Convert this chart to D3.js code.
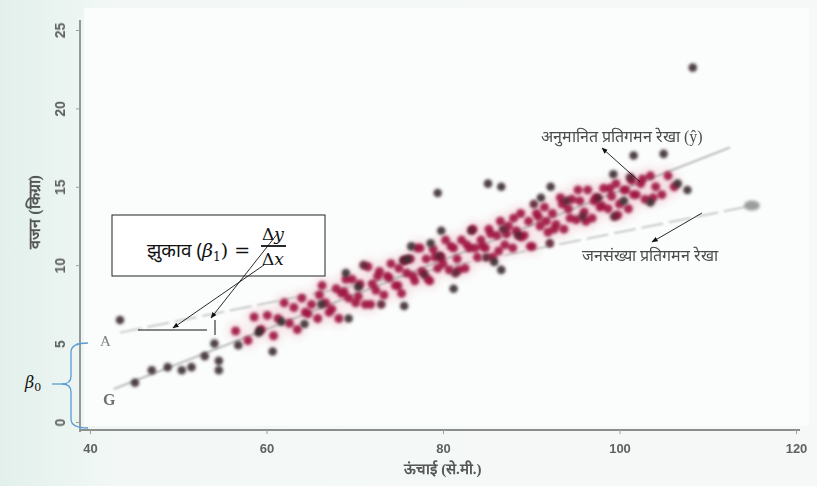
<!DOCTYPE html>
<html>
<head>
<meta charset="utf-8">
<script src="https://cdn.jsdelivr.net/npm/d3@7"></script>
<style>
  html, body { margin: 0; padding: 0; background: #f1f6f4; }
  svg { display: block; }
</style>
</head>
<body>
<svg id="chart" width="817" height="486"></svg>
<script>
// ---------------- data ----------------
const xTicks = [40, 60, 80, 100, 120];
const yTicks = [0, 5, 10, 15, 20, 25];

// dense core of the cloud (crimson)
const coreHeights = [56.5,57.9,58.6,59.4,60.1,60.8,61.3,62.0,62.6,63.1,63.5,64.0,64.7,65.1,65.8,66.3,66.7,67.4,67.9,68.2,
  68.8,69.3,69.7,70.1,70.6,71.2,71.5,72.0,72.4,72.8,73.3,73.7,74.1,74.6,75.0,75.3,75.9,76.3,76.8,77.1,
  77.6,78.1,78.5,78.9,79.4,79.8,80.3,80.7,81.2,81.6,82.1,82.5,83.0,83.4,83.9,84.3,84.8,85.2,85.6,86.1,
  86.5,87.0,87.4,87.9,88.3,88.8,89.2,89.7,90.1,90.6,91.0,91.5,91.9,92.4,92.8,93.3,93.7,94.2,94.6,95.1,
  95.5,96.0,96.4,96.9,97.3,97.8,98.2,98.7,99.1,99.6,100.0,100.5,101.0,101.4,101.9,102.4,102.9,103.5,104.1,104.8,
  105.5,106.2,
  64.4,66.0,67.1,68.5,69.0,70.4,71.8,72.6,73.9,74.9,75.7,76.6,77.4,78.3,79.1,80.0,80.9,81.8,82.7,83.6,
  84.5,85.4,86.3,87.2,88.0,88.9,89.9,90.8,91.7,92.6,93.5,94.4,95.3,96.2,97.1,98.0,98.9,99.8,100.7,101.6,
  102.6,103.8];
const coreWeights = [5.8,5.2,6.7,5.9,6.8,5.5,6.6,7.6,6.3,7.3,5.9,7.9,6.9,7.5,6.6,8.7,7.6,7.2,8.5,6.6,
  8.3,7.9,9.1,7.6,8.8,7.5,9.9,8.8,8.4,9.6,8.1,9.3,10.1,8.7,9.8,8.2,9.5,10.4,9.0,11.1,
  9.6,10.4,9.0,11.0,9.8,10.5,11.6,9.7,11.1,10.4,11.6,9.8,11.1,12.3,10.5,11.6,11.1,12.3,10.5,11.9,
  12.8,11.3,12.5,11.1,12.2,13.3,11.9,12.8,11.2,13.3,12.5,13.7,12.1,13.3,12.6,14.3,12.3,13.6,14.2,12.9,
  14.1,13.4,14.8,13.0,14.3,13.7,14.9,13.6,14.4,15.2,13.9,14.8,13.6,15.4,14.5,15.2,14.2,15.7,15.0,14.5,
  15.7,15.0,
  7.0,8.1,7.0,8.2,9.1,8.0,7.5,9.3,9.2,8.7,10.3,9.3,11.1,9.1,10.5,10.1,11.2,9.7,11.3,11.1,
  11.2,12.0,10.9,12.0,13.0,11.8,11.2,13.1,12.8,12.3,13.9,13.0,14.8,12.8,14.1,13.8,14.9,13.2,14.8,14.5,
  15.5,14.3];

// darker maroon points inside the band
const bandHeights = [71.0,73.0,75.5,77.9,79.6,81.4,83.2,84.9,86.8,88.5,90.3,92.1,94.0,95.8,97.6,99.4,101.2];
const bandWeights = [10.0,7.5,10.3,9.4,10.6,9.5,12.2,10.5,12.3,11.9,13.9,11.4,14.1,13.1,14.3,13.1,15.6];

// scattered dark points
const darkHeights = [108.3,43.4,45.1,47.0,48.8,50.4,51.5,53.0,54.1,54.6,54.6,56.8,59.1,60.7,61.7,64.3,69.0,70.4,75.6,79.4,
  85.1,86.6,91.1,92.2,99.3,100.5,101.6,105.0,106.6,103.5,79.8,78.6,76.4,76.0,86.6,85.8,81.2,69.3,66.2,59.2,107.7];
const darkWeights = [22.6,6.5,2.5,3.3,3.5,3.3,3.5,4.2,5.0,3.9,3.3,4.9,5.7,4.5,6.4,6.25,9.5,8.6,7.4,14.6,
  15.2,15.0,14.3,15.0,15.8,14.1,17.0,17.1,15.2,14.0,12.2,11.4,11.2,10.4,9.7,10.2,8.5,6.6,7.5,5.8,14.8];

// fitted (estimated) regression line and population regression line
const estLineX = [42.7, 112.5];
const estLineY = [2.1, 17.5];
const popLineX = [43.4, 115.0];
const popLineY = [5.7, 13.8];

const xLabel = "ऊंचाई (से.मी.)";
const yLabel = "वजन (किग्रा)";
const estLabel = "अनुमानित प्रतिगमन रेखा (ŷ)";
const popLabel = "जनसंख्या प्रतिगमन रेखा";

// ---------------- drawing ----------------
const svg = d3.select("#chart");
const W = 817, H = 486;

const x = d3.scaleLinear().domain([40, 120]).range([90, 796]);
const y = d3.scaleLinear().domain([0, 25]).range([422, 30]);

const defs = svg.append("defs");
const bg = defs.append("linearGradient").attr("id", "bg").attr("x1", 0).attr("x2", 1).attr("y1", 0).attr("y2", 0);
bg.append("stop").attr("offset", "0%").attr("stop-color", "#e2f0eb");
bg.append("stop").attr("offset", "15%").attr("stop-color", "#f3f8f6");
bg.append("stop").attr("offset", "100%").attr("stop-color", "#f6f8f7");
defs.append("filter").attr("id", "blur").attr("x", "-50%").attr("y", "-50%").attr("width", "200%").attr("height", "200%")
  .append("feGaussianBlur").attr("stdDeviation", 1.5);
defs.append("filter").attr("id", "blurSoft").attr("x", "-50%").attr("y", "-50%").attr("width", "200%").attr("height", "200%")
  .append("feGaussianBlur").attr("stdDeviation", 5);
defs.append("filter").attr("id", "blurLine").append("feGaussianBlur").attr("stdDeviation", 0.8);
defs.append("filter").attr("id", "blurText").append("feGaussianBlur").attr("stdDeviation", 0.45);
const mk = defs.append("marker").attr("id", "arrow").attr("viewBox", "0 0 10 10")
  .attr("refX", 9).attr("refY", 5).attr("markerWidth", 7).attr("markerHeight", 7).attr("orient", "auto-start-reverse");
mk.append("path").attr("d", "M0,1 L10,5 L0,9 z").attr("fill", "#111");

svg.append("rect").attr("width", W).attr("height", H).attr("fill", "url(#bg)");
svg.append("rect").attr("x", 84).attr("y", 8).attr("width", 725).attr("height", 418).attr("fill", "#fbfdfc");

// soft pink halo under the cloud
svg.append("g").attr("filter", "url(#blurSoft)").attr("opacity", 0.25)
  .selectAll("circle").data(coreHeights).join("circle")
  .attr("cx", (d) => x(d)).attr("cy", (d, i) => y(coreWeights[i])).attr("r", 8).attr("fill", "#e07a96");

// axes
const gx = svg.append("g").attr("transform", "translate(0,430)")
  .call(d3.axisBottom(x).tickValues(xTicks).tickSize(4).tickPadding(10).tickFormat(d3.format("d")));
gx.select(".domain").attr("stroke", "#8a8f8d").attr("stroke-width", 1.8).attr("d", "M80,0H800");
gx.selectAll(".tick line").attr("stroke", "#9a9f9d");
gx.selectAll(".tick text").attr("fill", "#5f6361").attr("font-size", 13).attr("font-family", "Liberation Sans, Arial, sans-serif").attr("font-weight", "bold").attr("filter", "url(#blurText)");

const gy = svg.append("g").attr("transform", "translate(80,0)")
  .call(d3.axisLeft(y).tickValues(yTicks).tickSize(4).tickPadding(0).tickFormat(d3.format("d")));
gy.select(".domain").attr("stroke", "#8a8f8d").attr("stroke-width", 1.8).attr("d", "M0,20V432");
gy.selectAll(".tick line").attr("stroke", "#9a9f9d");
gy.selectAll(".tick text")
  .attr("x", 0).attr("dy", 0)
  .attr("transform", "translate(-20,0) rotate(-90)")
  .attr("text-anchor", "middle").attr("dominant-baseline", "central")
  .attr("fill", "#5f6361").attr("font-size", 14).attr("font-family", "Liberation Sans, Arial, sans-serif").attr("font-weight", "bold").attr("filter", "url(#blurText)");

// axis titles
svg.append("text").attr("x", 443).attr("y", 474).attr("text-anchor", "middle").attr("filter", "url(#blurText)")
  .attr("font-size", 15).attr("font-weight", "bold").attr("fill", "#555957").text(xLabel);
svg.append("text").attr("transform", "translate(40,212) rotate(-90)").attr("text-anchor", "middle").attr("filter", "url(#blurText)")
  .attr("font-size", 16).attr("font-weight", "bold").attr("fill", "#555957").text(yLabel);

// regression lines
const line = d3.line().x((d) => x(d[0])).y((d) => y(d[1]));
svg.append("path").datum(estLineX.map((v, i) => [v, estLineY[i]])).attr("d", line)
  .attr("stroke", "#a9abaa").attr("stroke-width", 1.6).attr("fill", "none").attr("filter", "url(#blurLine)");
svg.append("path").datum(popLineX.map((v, i) => [v, popLineY[i]])).attr("d", line)
  .attr("stroke", "#b8bab9").attr("stroke-width", 1.5).attr("fill", "none").attr("stroke-dasharray", "22 6").attr("filter", "url(#blurLine)");
svg.append("ellipse").attr("cx", x(popLineX[1])).attr("cy", y(popLineY[1])).attr("rx", 8).attr("ry", 5)
  .attr("fill", "#9c9e9d").attr("filter", "url(#blur)");

// points
svg.append("g").attr("filter", "url(#blur)")
  .selectAll("circle").data(coreHeights).join("circle")
  .attr("cx", (d) => x(d)).attr("cy", (d, i) => y(coreWeights[i])).attr("r", 4.5)
  .attr("fill", "#a01a42").attr("fill-opacity", 0.92);
svg.append("g").attr("filter", "url(#blur)")
  .selectAll("circle").data(bandHeights).join("circle")
  .attr("cx", (d) => x(d)).attr("cy", (d, i) => y(bandWeights[i])).attr("r", 4.4)
  .attr("fill", "#5c1d31").attr("fill-opacity", 0.9);
svg.append("g").attr("filter", "url(#blur)")
  .selectAll("circle").data(darkHeights).join("circle")
  .attr("cx", (d) => x(d)).attr("cy", (d, i) => y(darkWeights[i])).attr("r", 4.3)
  .attr("fill", "#3b2c31").attr("fill-opacity", 0.9);

// A and G labels
svg.append("text").attr("x", 100).attr("y", 346).attr("font-family", "Liberation Serif, serif").attr("font-size", 15).attr("fill", "#7d7f7e").attr("filter", "url(#blurText)").text("A");
svg.append("text").attr("x", 103).attr("y", 405).attr("font-family", "Liberation Serif, serif").attr("font-size", 16).attr("font-weight", "bold").attr("fill", "#6d706e").attr("filter", "url(#blurText)").text("G");

// beta0 brace
svg.append("path").attr("d", "M88,343 Q71,343 71,352 L71,376 Q71,384 62,384 Q71,384 71,392 L71,419 Q71,428 88,428")
  .attr("fill", "none").attr("stroke", "#5b9bd5").attr("stroke-width", 1.3);
svg.append("line").attr("x1", 52).attr("y1", 384).attr("x2", 64).attr("y2", 384).attr("stroke", "#5b9bd5").attr("stroke-width", 1.3);
const b0 = svg.append("text").attr("x", 25).attr("y", 388).attr("font-family", "DejaVu Serif, serif").attr("font-size", 16).attr("fill", "#111");
b0.append("tspan").attr("font-style", "italic").text("β");
b0.append("tspan").attr("font-size", 11).attr("dy", 3).text("0");

// slope box
svg.append("rect").attr("x", 112).attr("y", 215).attr("width", 213).attr("height", 61)
  .attr("fill", "#ffffff").attr("stroke", "#222").attr("stroke-width", 1);
const st = svg.append("text").attr("x", 147).attr("y", 257).attr("font-size", 19).attr("fill", "#111");
st.append("tspan").attr("font-family", "Noto Sans, sans-serif").text("झुकाव (");
st.append("tspan").attr("font-family", "DejaVu Serif, serif").attr("font-style", "italic").text("β");
st.append("tspan").attr("font-family", "DejaVu Serif, serif").attr("font-size", 12).attr("dy", 4).text("1");
st.append("tspan").attr("font-family", "DejaVu Serif, serif").attr("dy", -4).text(") = ");
svg.append("text").attr("x", 273).attr("y", 240).attr("text-anchor", "middle").attr("font-family", "DejaVu Serif, serif").attr("font-size", 17).attr("fill", "#111")
  .call((t) => { t.append("tspan").text("Δ"); t.append("tspan").attr("font-style", "italic").text("y"); });
svg.append("line").attr("x1", 261).attr("x2", 286).attr("y1", 246).attr("y2", 246).attr("stroke", "#111").attr("stroke-width", 1.8);
svg.append("text").attr("x", 273).attr("y", 265).attr("text-anchor", "middle").attr("font-family", "DejaVu Serif, serif").attr("font-size", 17).attr("fill", "#111")
  .call((t) => { t.append("tspan").text("Δ"); t.append("tspan").attr("font-style", "italic").text("x"); });

// slope helpers
svg.append("line").attr("x1", 138).attr("y1", 330).attr("x2", 207).attr("y2", 330).attr("stroke", "#111").attr("stroke-width", 1);
svg.append("line").attr("x1", 215).attr("y1", 320).attr("x2", 215).attr("y2", 335).attr("stroke", "#111").attr("stroke-width", 1);
svg.append("line").attr("x1", 278).attr("y1", 233).attr("x2", 211).attr("y2", 318).attr("stroke", "#111").attr("stroke-width", 0.9).attr("marker-end", "url(#arrow)");
svg.append("line").attr("x1", 264).attr("y1", 265).attr("x2", 173).attr("y2", 328).attr("stroke", "#111").attr("stroke-width", 0.9).attr("marker-end", "url(#arrow)");

// annotation labels
svg.append("text").attr("x", 541).attr("y", 142).attr("font-size", 16).attr("fill", "#4a4e4c").attr("filter", "url(#blurText)").text(estLabel);
svg.append("text").attr("x", 582).attr("y", 261).attr("font-size", 16).attr("fill", "#4a4e4c").attr("filter", "url(#blurText)").text(popLabel);
svg.append("line").attr("x1", 640).attr("y1", 182).attr("x2", 602).attr("y2", 148).attr("stroke", "#111").attr("stroke-width", 0.9).attr("marker-end", "url(#arrow)");
svg.append("line").attr("x1", 702).attr("y1", 213).attr("x2", 652).attr("y2", 242).attr("stroke", "#111").attr("stroke-width", 0.9).attr("marker-end", "url(#arrow)");
</script>
</body>
</html>
